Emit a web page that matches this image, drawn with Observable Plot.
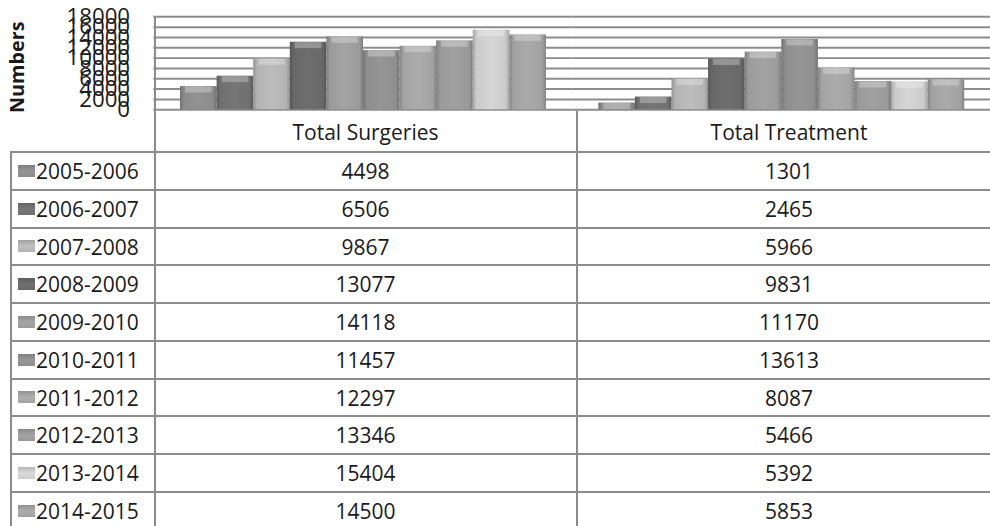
<!DOCTYPE html>
<html>
<head>
<meta charset="utf-8">
<script src="https://cdn.jsdelivr.net/npm/d3@7"></script>
<script src="https://cdn.jsdelivr.net/npm/@observablehq/plot@0.6"></script>
<style>
  html, body { margin: 0; padding: 0; background: #fff; overflow: hidden; }
  #wrap { position: relative; width: 990px; height: 526px; overflow: hidden; font-family: "Open Sans", sans-serif; color: #1a1a1a; }
  #chart { position: absolute; left: 0; top: 0; }
  .ln { position: absolute; background: #8c8c8c; }
  .cell { position: absolute; font-size: 21px; white-space: nowrap; }
  .sw { position: absolute; width: 17px; height: 12px; }
</style>
</head>
<body>
<div id="wrap"><div id="chart"></div></div>
<script>
const categories = ["Total Surgeries", "Total Treatment"];
const years = ["2005-2006", "2006-2007", "2007-2008", "2008-2009", "2009-2010",
               "2010-2011", "2011-2012", "2012-2013", "2013-2014", "2014-2015"];
const surgeries = [4498, 6506, 9867, 13077, 14118, 11457, 12297, 13346, 15404, 14500];
const treatment = [1301, 2465, 5966, 9831, 11170, 13613, 8087, 5466, 5392, 5853];
const yTicks = [0, 2000, 4000, 6000, 8000, 10000, 12000, 14000, 16000, 18000];
const barColors = ["#8b8b8b", "#707070", "#b3b3b3", "#686868", "#9b9b9b",
                   "#8e8e8e", "#a3a3a3", "#999999", "#cbcbcb", "#a1a1a1"];

const series = [surgeries, treatment];
const data = [];
categories.forEach((cat, ci) => years.forEach((yr, yi) => data.push({cat, year: yr, value: series[ci][yi], idx: yi})));

const chart = Plot.plot({
  width: 1001,
  height: 124,
  marginLeft: 155,
  marginRight: 0,
  marginTop: 16.5,
  marginBottom: 13.5,
  style: {fontFamily: "Open Sans", fontSize: "22.5px", color: "#1a1a1a", background: "transparent", overflow: "visible"},
  fx: {domain: categories, padding: 0, axis: null},
  x: {domain: years, paddingInner: 0, paddingOuter: 0.69, axis: null},
  y: {domain: [0, 18000], ticks: yTicks, tickSize: 0, tickPadding: 24, tickFormat: d => String(d),
      label: "Numbers", labelAnchor: "center", labelOffset: 145},
  color: {type: "identity"},
  marks: [
    Plot.ruleY(yTicks, {stroke: "#8c8c8c", strokeOpacity: 1, strokeWidth: 2}),
    Plot.barY(data, {fx: "cat", x: "year", y: "value", fill: d => `url(#g${d.idx})`}),
    Plot.tickY(data, {fx: "cat", x: "year", y: "value", stroke: "#ffffff", strokeOpacity: 0.28, strokeWidth: 6, dy: 3, insetLeft: 5, insetRight: 5})
  ]
});

// gradients for the bevelled bars
const ns = "http://www.w3.org/2000/svg";
const defs = document.createElementNS(ns, "defs");
barColors.forEach((c, i) => {
  const lg = document.createElementNS(ns, "linearGradient");
  lg.setAttribute("id", "g" + i);
  lg.setAttribute("x1", "0"); lg.setAttribute("x2", "1"); lg.setAttribute("y1", "0"); lg.setAttribute("y2", "0");
  const base = d3.color(c);
  const stops = [[0, base.darker(0.6)], [0.1, base], [0.5, base.brighter(0.15)], [0.9, base], [1, base.darker(0.6)]];
  stops.forEach(([o, col]) => {
    const s = document.createElementNS(ns, "stop");
    s.setAttribute("offset", o);
    s.setAttribute("stop-color", col.formatHex());
    lg.appendChild(s);
  });
  defs.appendChild(lg);
});
chart.insertBefore(defs, chart.firstChild);
chart.querySelectorAll("text").forEach(t => {
  if (t.textContent.startsWith("Numbers")) {
    t.textContent = "Numbers";
    t.style.fontWeight = "bold";
    t.style.fontSize = "20px";
    t.setAttribute("dx", "-4");
  }
});
document.getElementById("chart").appendChild(chart);

// data table below the chart
const wrap = document.getElementById("wrap");
function line(l, t, w, h) {
  const d = document.createElement("div");
  d.className = "ln";
  Object.assign(d.style, {left: l + "px", top: t + "px", width: w + "px", height: h + "px"});
  wrap.appendChild(d);
}
function cell(text, l, t, w, h, align) {
  const d = document.createElement("div");
  d.className = "cell";
  d.textContent = text;
  Object.assign(d.style, {left: l + "px", top: t + "px", width: w + "px", height: h + "px", lineHeight: h + "px", textAlign: align});
  wrap.appendChild(d);
  return d;
}
const colEdges = [10, 154, 577, 1001];
const headTop = 111, rowTop = 152, rowH = 37.75;
// vertical lines
line(154, 16, 2, 526);
line(576, headTop, 2, 526);
line(10, rowTop, 2, 526);
// header row
categories.forEach((c, i) => cell(c, colEdges[i + 1], headTop, colEdges[i + 2] - colEdges[i + 1], rowTop - headTop + 2, "center"));
// body rows
years.forEach((yr, i) => {
  const top = rowTop + i * rowH;
  line(10, top - 1, 1000, 2);
  const sw = document.createElement("div");
  sw.className = "sw";
  const base = d3.color(barColors[i]);
  sw.style.left = "18px";
  sw.style.top = (top + rowH / 2 - 6) + "px";
  sw.style.background = `linear-gradient(to bottom, ${base.darker(0.3).formatHex()}, ${base.brighter(0.2).formatHex()} 50%, ${base.formatHex()})`;
  wrap.appendChild(sw);
  cell(yr, 36, top + 1, 118, rowH, "left");
  cell(String(surgeries[i]), colEdges[1], top + 1, colEdges[2] - colEdges[1], rowH, "center");
  cell(String(treatment[i]), colEdges[2], top + 1, colEdges[3] - colEdges[2], rowH, "center");
});
line(10, rowTop + years.length * rowH - 1, 1000, 2);
</script>
</body>
</html>
